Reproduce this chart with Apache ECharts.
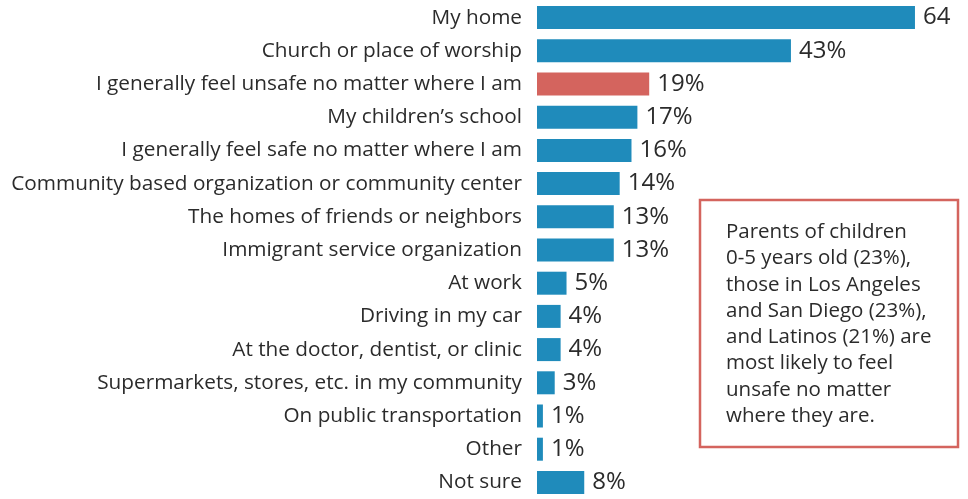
<!DOCTYPE html>
<html>
<head>
<meta charset="utf-8">
<script src="https://cdn.jsdelivr.net/npm/echarts@6/dist/echarts.min.js"></script>
<style>
  html, body { margin: 0; padding: 0; background: #fff; }
  #chart { width: 968px; height: 499px; }
</style>
</head>
<body>
<div id="chart"></div>
<script>
// categories, top to bottom
const places = [
  'My home',
  'Church or place of worship',
  'I generally feel unsafe no matter where I am',
  'My children\u2019s school',
  'I generally feel safe no matter where I am',
  'Community based organization or community center',
  'The homes of friends or neighbors',
  'Immigrant service organization',
  'At work',
  'Driving in my car',
  'At the doctor, dentist, or clinic',
  'Supermarkets, stores, etc. in my community',
  'On public transportation',
  'Other',
  'Not sure'
];
const shares = [64, 43, 19, 17, 16, 14, 13, 13, 5, 4, 4, 3, 1, 1, 8];
// the first label has no % sign in the original
const shareLabels = ['64', '43%', '19%', '17%', '16%', '14%', '13%', '13%', '5%', '4%', '4%', '3%', '1%', '1%', '8%'];
const highlightIndex = 2;
const noteLines = [
  'Parents of children',
  '0-5 years old (23%),',
  'those in Los Angeles',
  'and San Diego (23%),',
  'and Latinos (21%) are',
  'most likely to feel',
  'unsafe no matter',
  'where they are.'
];

const blue = '#1f8bbb';
const red = '#d4645e';
const textColor = '#2b2b2b';
const font = 'Open Sans';

const chart = echarts.init(document.getElementById('chart'));

const option = {
  animation: false,
  grid: { left: 537, right: 17.6, top: 1, bottom: 0, containLabel: false },
  xAxis: {
    type: 'value',
    min: 0,
    max: 70,
    show: false
  },
  yAxis: {
    type: 'category',
    inverse: true,
    data: places,
    axisLine: { show: false },
    axisTick: { show: false },
    axisLabel: {
      margin: 15,
      fontFamily: font,
      fontSize: 20.75,
      color: textColor
    }
  },
  series: [{
    type: 'bar',
    barWidth: 23,
    data: shares.map((v, i) => ({
      value: v,
      itemStyle: { color: i === highlightIndex ? red : blue }
    })),
    label: {
      show: true,
      position: 'right',
      distance: 8,
      fontFamily: font,
      fontSize: 24,
      color: textColor,
      formatter: p => shareLabels[p.dataIndex]
    }
  }],
  graphic: [
    {
      type: 'rect',
      shape: { x: 700, y: 200, width: 258, height: 247 },
      style: { fill: '#fff', stroke: red, lineWidth: 2.5 }
    },
    {
      type: 'text',
      left: 726,
      top: 219,
      style: {
        text: noteLines.join('\n'),
        fontFamily: font,
        fontSize: 20.5,
        lineHeight: 26.3,
        fill: textColor
      }
    }
  ]
};

chart.setOption(option);
</script>
</body>
</html>
